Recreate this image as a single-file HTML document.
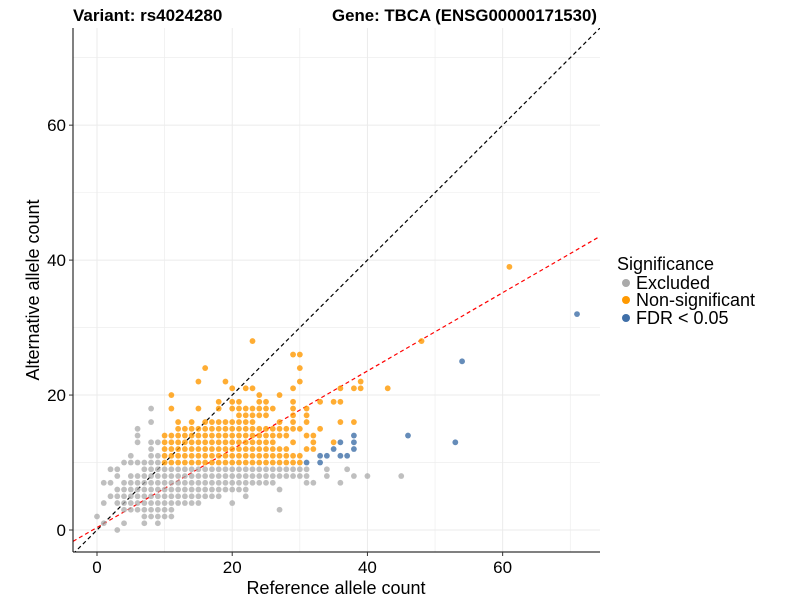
<!DOCTYPE html>
<html><head><meta charset="utf-8"><style>
body{margin:0;background:#fff;}
svg text{font-family:"Liberation Sans",Arial,sans-serif;}
</style></head><body>
<svg id="chart" width="800" height="600" xmlns="http://www.w3.org/2000/svg">
<text x="73" y="21" font-size="17" font-weight="bold">Variant: rs4024280</text>
<text x="332" y="21" font-size="17" font-weight="bold" textLength="265" lengthAdjust="spacingAndGlyphs">Gene: TBCA (ENSG00000171530)</text>
<g id="grid"></g>
<g id="lines"></g>
<g id="points"></g>
<g id="axes"></g>
<text x="336" y="594" font-size="18" text-anchor="middle">Reference allele count</text>
<text transform="translate(39,290) rotate(-90)" font-size="18" text-anchor="middle">Alternative allele count</text>
<g>
<text x="617" y="270" font-size="18">Significance</text>
<circle cx="626" cy="283" r="4" fill="#aaaaaa"/>
<text x="636" y="289" font-size="18">Excluded</text>
<circle cx="626" cy="300" r="4" fill="#ff9900"/>
<text x="636" y="306" font-size="18">Non-significant</text>
<circle cx="626" cy="318" r="4" fill="#3f6fa8"/>
<text x="636" y="324" font-size="18">FDR &lt; 0.05</text>
</g>
</svg>
<script>
const xTicks=[0,20,40,60];
const yTicks=[0,20,40,60];
const xMinor=[10,30,50,70];
const yMinor=[10,30,50,70];
// orange runs: [y, xStart, xEnd]
const orangeRuns=[[10,10,30],[11,10,30],[12,10,28],[12,31,32],[13,10,26],[13,29,29],[13,32,32],[13,35,35],[14,10,28],[14,31,32],[15,12,30],[15,33,33],[16,12,12],[16,14,14],[16,16,23],[16,27,27],[16,29,29],[16,31,31],[16,36,36],[16,38,38],[17,21,25],[17,29,29],[17,31,31],[18,11,11],[18,15,15],[18,18,18],[18,20,26],[18,29,29],[18,31,31],[19,18,18],[19,20,21],[19,24,25],[19,29,29],[19,33,33],[19,35,36],[20,11,11],[20,24,24],[20,27,27],[21,20,20],[21,22,23],[21,29,29],[21,36,36],[21,38,39],[21,43,43],[22,15,15],[22,19,19],[22,30,30],[22,39,39],[24,16,16],[24,30,30],[26,29,30],[28,23,23],[28,48,48],[39,61,61]];
const blueX=[31,33,33,34,36,37,35,38,36,38,38,46,53,54,71];
const blueY=[10,10,11,11,11,11,12,12,13,13,14,14,13,25,32];
const grayRuns=[[10,4,9],[11,5,5],[11,8,9],[12,8,8],[13,6,6],[13,8,9],[14,6,6],[15,6,6],[16,8,8],[18,8,8],[9,2,3],[9,7,31],[9,34,34],[9,37,37],[8,3,3],[8,5,31],[8,34,34],[8,38,38],[8,40,40],[8,45,45],[7,1,2],[7,4,26],[7,31,32],[7,36,36],[6,3,22],[6,27,27],[5,2,18],[5,22,22],[4,1,1],[4,3,15],[4,20,20],[3,4,11],[3,27,27],[2,0,0],[2,7,11],[1,1,1],[1,4,4],[1,7,7],[1,9,9],[0,3,3]];
const redSlope=0.58, redIntercept=0.37;

const X0=73,X1=600,Y0=28,Y1=552,xmin=-3.55,xmax=74.4,ymin=-3.26,ymax=74.4;
const sx=v=>X0+(v-xmin)/(xmax-xmin)*(X1-X0);
const sy=v=>Y1-(v-ymin)/(ymax-ymin)*(Y1-Y0);
const NS='http://www.w3.org/2000/svg';
function mk(tag,parent,attrs){const e=document.createElementNS(NS,tag);for(const k in attrs)e.setAttribute(k,attrs[k]);parent.appendChild(e);return e;}
const grid=document.getElementById('grid'),lines=document.getElementById('lines'),pts=document.getElementById('points'),axes=document.getElementById('axes');
xMinor.concat(xTicks).forEach(v=>{const l=mk('line',grid,{x1:sx(v),x2:sx(v),y1:Y0,y2:Y1,stroke:'#ebebeb','stroke-width':xTicks.includes(v)?1:0.6});

});
yMinor.concat(yTicks).forEach(v=>{const l=mk('line',grid,{x1:X0,x2:X1,y1:sy(v),y2:sy(v),stroke:'#ebebeb','stroke-width':yTicks.includes(v)?1:0.6});

});
function dot(x,y,fill,op,name){const c=mk('circle',pts,{cx:sx(x),cy:sy(y),r:2.9,fill:fill,'fill-opacity':op});

}
grayRuns.forEach(r=>{for(let x=r[1];x<=r[2];x++)dot(x,r[0],'#aaaaaa',0.75,'point-excluded');});
orangeRuns.forEach(r=>{for(let x=r[1];x<=r[2];x++)dot(x,r[0],'#ff9900',0.8,'point-nonsignificant');});
blueX.forEach((x,i)=>dot(x,blueY[i],'#3f6fa8',0.8,'point-fdr'));
let l1=mk('line',lines,{x1:sx(xmin),y1:sy(xmin),x2:sx(ymax),y2:sy(ymax),stroke:'#000','stroke-width':1.2,'stroke-dasharray':'4,3'});


let l2=mk('line',lines,{x1:sx(xmin),y1:sy(redIntercept+redSlope*xmin),x2:sx(xmax),y2:sy(redIntercept+redSlope*xmax),stroke:'#ff0000','stroke-width':1.2,'stroke-dasharray':'4,3'});


lines.setAttribute('clip-path','url(#pc)');
const defs=mk('defs',document.getElementById('chart'),{});
const cp=mk('clipPath',defs,{id:'pc'});mk('rect',cp,{x:X0,y:Y0,width:X1-X0,height:Y1-Y0});
let ax=mk('line',axes,{x1:X0,x2:X1,y1:Y1,y2:Y1,stroke:'#000','stroke-width':1});


let ay=mk('line',axes,{x1:X0,x2:X0,y1:Y0,y2:Y1,stroke:'#000','stroke-width':1});


xTicks.forEach(v=>{mk('line',axes,{x1:sx(v),x2:sx(v),y1:Y1,y2:Y1+4,stroke:'#333'});
const t=mk('text',axes,{x:sx(v),y:Y1+21,'font-size':17,'text-anchor':'middle'});t.textContent=v;

});
yTicks.forEach(v=>{mk('line',axes,{x1:X0-4,x2:X0,y1:sy(v),y2:sy(v),stroke:'#333'});
const t=mk('text',axes,{x:X0-7,y:sy(v)+6,'font-size':17,'text-anchor':'end'});t.textContent=v;

});
</script>
</body></html>
